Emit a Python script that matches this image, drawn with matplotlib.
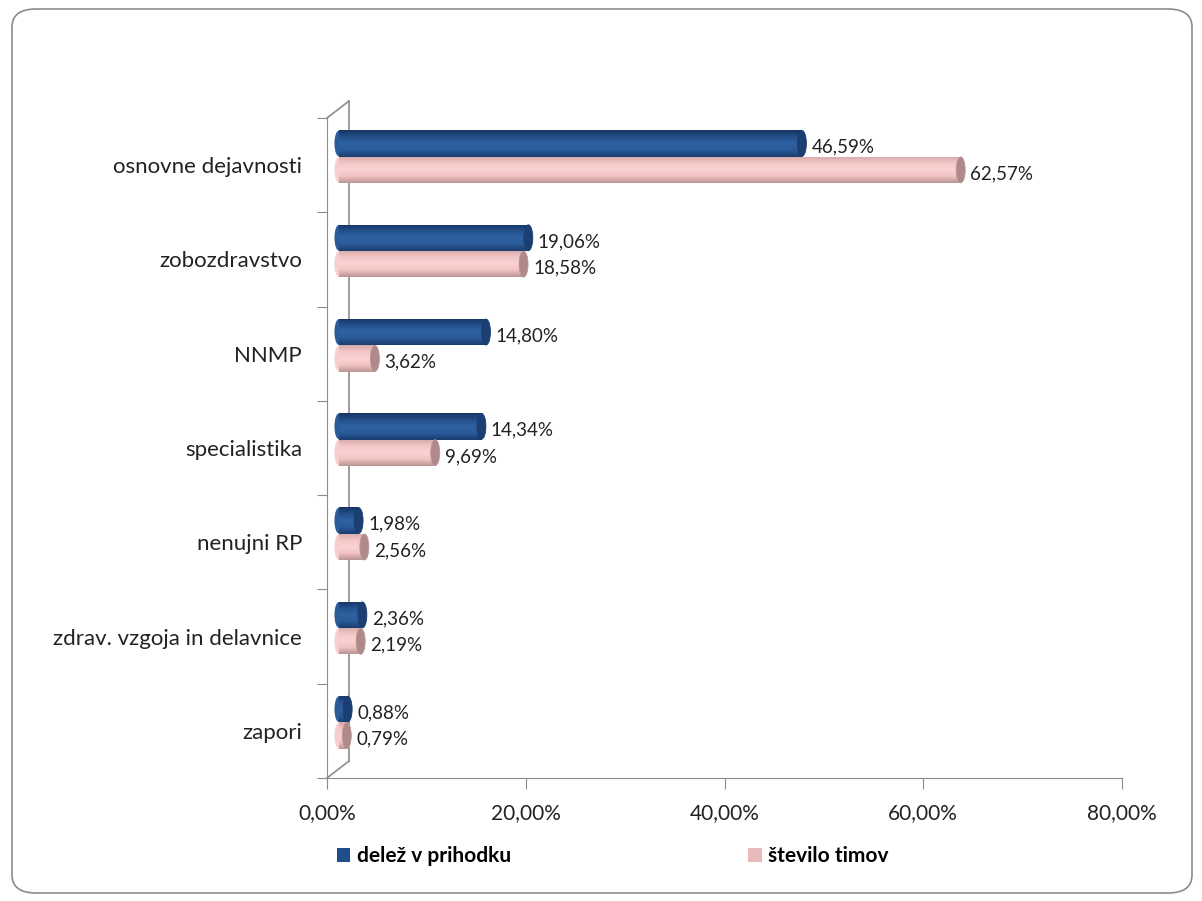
import matplotlib
matplotlib.use("Agg")
import matplotlib.pyplot as plt
import numpy as np
from matplotlib.patches import Rectangle, Ellipse, FancyBboxPatch, Patch
from matplotlib.colors import LinearSegmentedColormap
import matplotlib.transforms as mtransforms

plt.rcParams['font.family'] = ['Lato', 'DejaVu Sans']

categories = ['osnovne dejavnosti', 'zobozdravstvo', 'NNMP', 'specialistika',
              'nenujni RP', 'zdrav. vzgoja in delavnice', 'zapori']
delez_prihodku = [46.59, 19.06, 14.80, 14.34, 1.98, 2.36, 0.88]
stevilo_timov = [62.57, 18.58, 3.62, 9.69, 2.56, 2.19, 0.79]
series_names = ['delež v prihodku', 'število timov']
xticks = [0, 20, 40, 60, 80]

blue_cmap = LinearSegmentedColormap.from_list(
    'b', ['#1a3d6e', '#2a5a98', '#2f62a3', '#24508a', '#163462'])
pink_cmap = LinearSegmentedColormap.from_list(
    'p', ['#b99594', '#f3c3c3', '#fbd3d3', '#f4c6c6', '#d6aaaa'])
blue_cap = '#1b3f72'
pink_cap = '#b08a8a'

fig = plt.figure(figsize=(12.02, 9.01), dpi=100)
W, H = 1202, 901

# rounded outer frame
frame = FancyBboxPatch((12 / W, 8 / H), 1180 / W, 884 / H,
                       boxstyle="round,pad=0,rounding_size=0.02",
                       transform=fig.transFigure, facecolor='none',
                       edgecolor='#8c8c8c', linewidth=1.2, zorder=-1)
fig.patches.append(frame)

ax = fig.add_axes([327 / W, 1 - 778 / H, (1122 - 327) / W, (778 - 118) / H])
ax.set_facecolor('none')

n = len(categories)
ypos = np.arange(n)[::-1]  # top category first
bar_h = 0.28
shift_up = 0.09
depth = 1.2
lab_dy = -0.04
ax.set_xlim(0, 80)
ax.set_ylim(-0.5, n - 0.5)


def cylinder(x0, w, yc, h, cmap, capc):
    left = x0
    bottom = yc - h / 2
    rect = Rectangle((left, bottom), w, h, facecolor='none', edgecolor='none')
    ax.add_patch(rect)
    grad = np.linspace(0, 1, 64).reshape(-1, 1)
    im = ax.imshow(grad, cmap=cmap, extent=(left, left + w, bottom, bottom + h),
                   origin='lower', aspect='auto', zorder=3, interpolation='bilinear')
    im.set_clip_path(rect)
    # rounded start
    ax.add_patch(Ellipse((left, yc), 0.9, h * 0.98, facecolor=cmap(0.6),
                         edgecolor='none', zorder=2.9))
    # end cap
    ax.add_patch(Ellipse((left + w, yc), 0.9, h * 0.98, facecolor=capc,
                         edgecolor=cmap(0.0), linewidth=0.6, zorder=4))


for i, y in enumerate(ypos):
    yb = y + shift_up + bar_h / 2
    yp = y + shift_up - bar_h / 2
    cylinder(depth, delez_prihodku[i], yb, bar_h, blue_cmap, blue_cap)
    cylinder(depth, stevilo_timov[i], yp, bar_h, pink_cmap, pink_cap)
    ax.text(depth + delez_prihodku[i] + 0.95, yb + lab_dy,
            f"{delez_prihodku[i]:.2f}%".replace('.', ','),
            va='center', ha='left', fontsize=13.5, color='#222222', zorder=5)
    ax.text(depth + stevilo_timov[i] + 0.95, yp + lab_dy,
            f"{stevilo_timov[i]:.2f}%".replace('.', ','),
            va='center', ha='left', fontsize=13.5, color='#222222', zorder=5)

# axes styling
for s in ['top', 'right']:
    ax.spines[s].set_visible(False)
ax.spines['left'].set_color('#8c8c8c')
ax.spines['bottom'].set_color('#8c8c8c')
ax.set_xticks(xticks)
ax.set_xticklabels([f"{v:.2f}%".replace('.', ',') for v in xticks], fontsize=15, color='#222222')
ax.tick_params(axis='x', direction='out', length=8, color='#8c8c8c', pad=10)
ax.set_yticks(np.arange(-0.5, n, 1.0))
ax.set_yticklabels([])
ax.set_yticks(ypos, minor=True)
ax.set_yticklabels(categories, minor=True, fontsize=16, color='#222222')
ax.tick_params(axis='y', which='major', direction='out', length=7, color='#8c8c8c')
ax.tick_params(axis='y', which='minor', length=0, pad=18)

# 3D wall depth lines (pixel offsets)
dx, dy = 22, 17
off = mtransforms.offset_copy(ax.transAxes, fig=fig, x=dx, y=dy, units='dots')
ax.plot([0, 0], [0, 1], transform=off, color='#8c8c8c', lw=1.2, clip_on=False)
ax.plot([0, dx / (1122 - 327)], [1, 1 + dy / (778 - 118)], transform=ax.transAxes,
        color='#8c8c8c', lw=1.2, clip_on=False)
ax.plot([0, dx / (1122 - 327)], [0, dy / (778 - 118)], transform=ax.transAxes,
        color='#8c8c8c', lw=1.2, clip_on=False)

handles = [Patch(facecolor='#1f4e8c', edgecolor='none'),
           Patch(facecolor='#e9b9b9', edgecolor='none')]
leg = fig.legend(handles, series_names, loc='center left',
                 bbox_to_anchor=(318 / W, 1 - 856 / H), ncol=2, frameon=False,
                 handlelength=0.65, handleheight=0.65, handletextpad=0.3,
                 columnspacing=11.4, prop={'weight': 'bold', 'size': 15})

fig.savefig('out.png', dpi=100)
